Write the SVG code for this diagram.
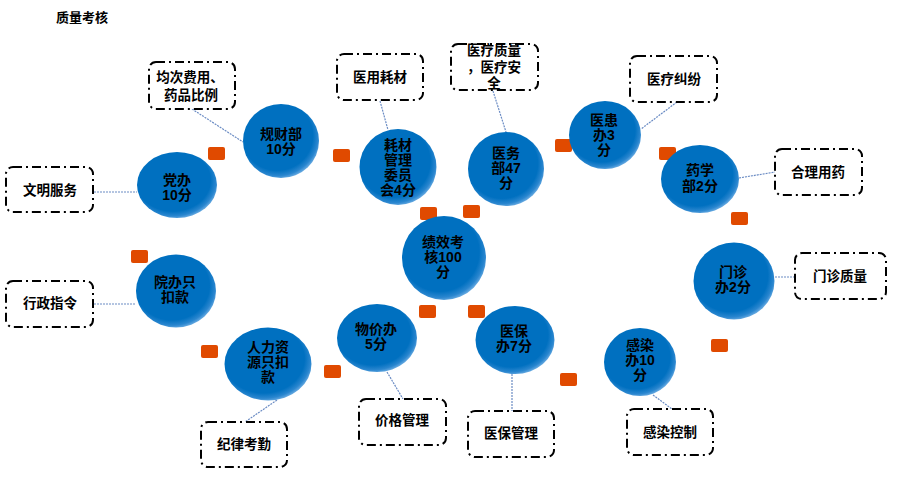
<svg xmlns="http://www.w3.org/2000/svg" width="902" height="478" viewBox="0 0 902 478">
<defs>
<radialGradient id="ball" cx="0.45" cy="0.43" r="0.6">
<stop offset="0" stop-color="#0070c0"/>
<stop offset="0.78" stop-color="#0070c0"/>
<stop offset="0.9" stop-color="#2a86cf"/>
<stop offset="1" stop-color="#7fb8e8"/>
</radialGradient>
<style>
.n{fill:url(#ball);}
.t{font-family:"Liberation Sans","Noto Sans CJK SC",sans-serif;font-weight:bold;font-size:14px;fill:#000;text-anchor:middle;}
.b{fill:#fff;stroke:#000;stroke-width:2;stroke-dasharray:9 4 2 4;}
.bt{font-family:"Liberation Sans","Noto Sans CJK SC",sans-serif;font-weight:bold;font-size:13.5px;fill:#000;text-anchor:middle;}
.sq{fill:#e04a00;}
.c{stroke:#6b8cc4;stroke-width:1.2;stroke-dasharray:2 1;fill:none;}
</style>
</defs>
<rect width="902" height="478" fill="#fff"/>
<text x="82" y="22" class="bt" style="font-size:13px">质量考核</text>

<g id="connectors">
<line class="c" x1="94" y1="192" x2="137" y2="192"/>
<line class="c" x1="192" y1="109" x2="243" y2="142"/>
<line class="c" x1="380" y1="101" x2="388" y2="130"/>
<line class="c" x1="493" y1="91" x2="506" y2="132"/>
<line class="c" x1="677" y1="102" x2="641" y2="129"/>
<line class="c" x1="739" y1="178" x2="775" y2="172"/>
<line class="c" x1="775" y1="277" x2="795" y2="277"/>
<line class="c" x1="512" y1="374" x2="512" y2="411"/>
<line class="c" x1="653" y1="395" x2="672" y2="409"/>
<line class="c" x1="387" y1="372" x2="403" y2="399"/>
<line class="c" x1="277" y1="400" x2="245" y2="422"/>
<line class="c" x1="94" y1="304" x2="136" y2="304"/>
</g>

<g id="markers">
<rect class="sq" x="208" y="147" width="17" height="13" rx="2"/>
<rect class="sq" x="333" y="149" width="17" height="13" rx="2"/>
<rect class="sq" x="420" y="207" width="17" height="13" rx="2"/>
<rect class="sq" x="463" y="205" width="17" height="13" rx="2"/>
<rect class="sq" x="555" y="139" width="17" height="13" rx="2"/>
<rect class="sq" x="659" y="147" width="17" height="13" rx="2"/>
<rect class="sq" x="731" y="212" width="17" height="13" rx="2"/>
<rect class="sq" x="131" y="250" width="17" height="13" rx="2"/>
<rect class="sq" x="419" y="305" width="17" height="13" rx="2"/>
<rect class="sq" x="468" y="305" width="17" height="13" rx="2"/>
<rect class="sq" x="711" y="339" width="17" height="13" rx="2"/>
<rect class="sq" x="560" y="373" width="17" height="13" rx="2"/>
<rect class="sq" x="201" y="345" width="17" height="13" rx="2"/>
<rect class="sq" x="324" y="365" width="17" height="13" rx="2"/>
</g>

<g id="n-dangban"><ellipse class="n" cx="177" cy="185" rx="40" ry="33"/>
<text class="t" x="177" y="185">党办</text><text class="t" x="177" y="200">10分</text></g>
<g id="n-guicai"><ellipse class="n" cx="281" cy="141" rx="38" ry="37"/>
<text class="t" x="281" y="139">规财部</text><text class="t" x="281" y="154">10分</text></g>
<g id="n-haocai"><ellipse class="n" cx="398" cy="167" rx="38.5" ry="38"/>
<text class="t" x="398" y="150">耗材</text><text class="t" x="398" y="165">管理</text><text class="t" x="398" y="180">委员</text><text class="t" x="398" y="195">会4分</text></g>
<g id="n-yiwu"><ellipse class="n" cx="506" cy="169" rx="38" ry="37"/>
<text class="t" x="506" y="158">医务</text><text class="t" x="506" y="173">部47</text><text class="t" x="506" y="188">分</text></g>
<g id="n-yihuan"><ellipse class="n" cx="605" cy="135" rx="36" ry="34"/>
<text class="t" x="604" y="125">医患</text><text class="t" x="604" y="140">办3</text><text class="t" x="604" y="155">分</text></g>
<g id="n-yaoxue"><ellipse class="n" cx="700" cy="179" rx="39" ry="34"/>
<text class="t" x="700" y="175">药学</text><text class="t" x="700" y="191">部2分</text></g>
<g id="n-center"><ellipse class="n" cx="444" cy="258" rx="42" ry="42"/>
<text class="t" x="443" y="247">绩效考</text><text class="t" x="443" y="262">核100</text><text class="t" x="443" y="277">分</text></g>
<g id="n-menzhen"><ellipse class="n" cx="734" cy="281" rx="40.5" ry="38.5"/>
<text class="t" x="733" y="277">门诊</text><text class="t" x="733" y="292">办2分</text></g>
<g id="n-yibao"><ellipse class="n" cx="515" cy="340" rx="39.5" ry="34"/>
<text class="t" x="514" y="336">医保</text><text class="t" x="514" y="351">办7分</text></g>
<g id="n-ganran"><ellipse class="n" cx="640" cy="362" rx="36" ry="34"/>
<text class="t" x="640" y="350">感染</text><text class="t" x="640" y="365">办10</text><text class="t" x="640" y="380">分</text></g>
<g id="n-yuanban"><ellipse class="n" cx="176" cy="291" rx="40" ry="36.5"/>
<text class="t" x="175" y="287">院办只</text><text class="t" x="175" y="302">扣款</text></g>
<g id="n-renli"><ellipse class="n" cx="268" cy="364" rx="43.5" ry="36.5"/>
<text class="t" x="268" y="352">人力资</text><text class="t" x="268" y="367">源只扣</text><text class="t" x="268" y="382">款</text></g>
<g id="n-wujia"><ellipse class="n" cx="377" cy="338" rx="40" ry="34"/>
<text class="t" x="376" y="334">物价办</text><text class="t" x="376" y="349">5分</text></g>

<g id="b-wenming"><rect class="b" x="6" y="167" width="87" height="45" rx="7"/><text class="bt" x="50" y="195">文明服务</text></g>
<g id="b-junci"><rect class="b" x="149" y="62" width="86" height="47" rx="7"/><text class="bt" x="190" y="82">均次费用、</text><text class="bt" x="191" y="100">药品比例</text></g>
<g id="b-haocai"><rect class="b" x="337" y="54" width="86" height="46" rx="7"/><text class="bt" x="380" y="82">医用耗材</text></g>
<g id="b-zhiliang"><rect class="b" x="451" y="44" width="87" height="46" rx="7"/><text class="bt" x="494" y="55">医疗质量</text><text class="bt" x="494" y="72">，医疗安</text><text class="bt" x="494" y="88">全</text></g>
<g id="b-jiufen"><rect class="b" x="630" y="56" width="87" height="46" rx="7"/><text class="bt" x="674" y="84">医疗纠纷</text></g>
<g id="b-heli"><rect class="b" x="775" y="149" width="87" height="46" rx="7"/><text class="bt" x="818" y="177">合理用药</text></g>
<g id="b-menzhen"><rect class="b" x="795" y="253" width="91" height="46" rx="7"/><text class="bt" x="840" y="281">门诊质量</text></g>
<g id="b-yibao"><rect class="b" x="468" y="411" width="86" height="46" rx="7"/><text class="bt" x="511" y="438">医保管理</text></g>
<g id="b-ganran"><rect class="b" x="627" y="409" width="86" height="46" rx="7"/><text class="bt" x="670" y="437">感染控制</text></g>
<g id="b-jiage"><rect class="b" x="359" y="399" width="87" height="46" rx="7"/><text class="bt" x="402" y="425">价格管理</text></g>
<g id="b-jilv"><rect class="b" x="201" y="422" width="86" height="45" rx="7"/><text class="bt" x="244" y="449">纪律考勤</text></g>
<g id="b-xingzheng"><rect class="b" x="6" y="281" width="87" height="46" rx="7"/><text class="bt" x="50" y="308">行政指令</text></g>
</svg>
